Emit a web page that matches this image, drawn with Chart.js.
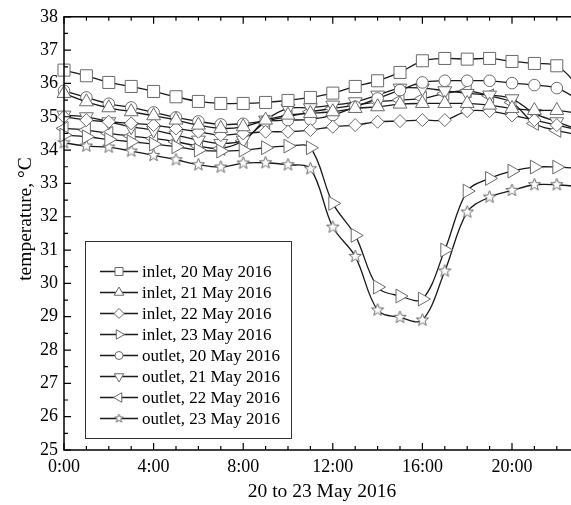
<!DOCTYPE html>
<html>
<head>
<meta charset="utf-8">
<script src="https://cdn.jsdelivr.net/npm/chart.js@4.4.1/dist/chart.umd.min.js"></script>
<style>
    html, body { margin: 0; padding: 0; background: #fff; overflow: hidden; }
    #wrap { width: 612px; height: 505px; }
</style>
</head>
<body>
<div id="wrap"><canvas id="tempChart" width="612" height="505"></canvas></div>
<script>
// hours of the day, one point per hour
const hours = [0, 1, 2, 3, 4, 5, 6, 7, 8, 9, 10, 11, 12, 13, 14, 15, 16, 17, 18, 19, 20, 21, 22, 23];

const inlet20 = [36.40, 36.23, 36.03, 35.91, 35.76, 35.60, 35.46, 35.40, 35.40, 35.43, 35.49, 35.58,
                 35.71, 35.91, 36.08, 36.33, 36.68, 36.75, 36.73, 36.75, 36.66, 36.60, 36.53, 35.90];
const inlet21 = [35.70, 35.45, 35.27, 35.15, 35.03, 34.90, 34.75, 34.65, 34.70, 34.90, 35.05, 35.10,
                 35.15, 35.25, 35.30, 35.38, 35.40, 35.40, 35.40, 35.35, 35.25, 35.19, 35.19, 35.10];
const inlet22 = [35.00, 34.90, 34.85, 34.80, 34.75, 34.65, 34.55, 34.45, 34.50, 34.55, 34.55, 34.60,
                 34.70, 34.75, 34.85, 34.87, 34.90, 34.90, 35.17, 35.17, 35.04, 34.90, 34.75, 34.60];
const inlet23 = [34.45, 34.40, 34.32, 34.25, 34.18, 34.10, 34.00, 33.97, 34.00, 34.07, 34.12, 34.07,
                 32.40, 31.44, 29.89, 29.62, 29.53, 31.00, 32.77, 33.15, 33.37, 33.49, 33.49, 33.45];
const outlet20 = [35.78, 35.58, 35.39, 35.28, 35.13, 34.98, 34.86, 34.77, 34.79, 34.87, 34.90, 34.92,
                  35.05, 35.30, 35.55, 35.80, 36.03, 36.08, 36.08, 36.08, 36.01, 35.95, 35.86, 35.50];
const outlet21 = [35.05, 35.00, 34.85, 34.70, 34.60, 34.45, 34.30, 34.20, 34.30, 34.90, 35.25, 35.27,
                  35.35, 35.45, 35.65, 35.86, 35.86, 35.78, 35.70, 35.65, 35.54, 35.10, 34.85, 34.60];
const outlet22 = [34.65, 34.60, 34.50, 34.42, 34.35, 34.25, 34.12, 34.05, 34.28, 34.84, 35.00, 35.15,
                  35.25, 35.35, 35.45, 35.50, 35.55, 35.70, 35.78, 35.63, 35.43, 34.80, 34.59, 34.45];
const outlet23 = [34.22, 34.12, 34.09, 33.97, 33.84, 33.71, 33.56, 33.49, 33.61, 33.62, 33.56, 33.44,
                  31.69, 30.81, 29.20, 28.98, 28.90, 30.37, 32.14, 32.59, 32.79, 32.96, 32.96, 32.90];

const seriesNames = ['inlet, 20 May 2016', 'inlet, 21 May 2016', 'inlet, 22 May 2016', 'inlet, 23 May 2016',
                     'outlet, 20 May 2016', 'outlet, 21 May 2016', 'outlet, 22 May 2016', 'outlet, 23 May 2016'];
// 24:00 falls outside the visible window, so only these get labels
const xTicks = [0, 4, 8, 12, 16, 20];
const xTitle = '20 to 23 May 2016';
const yTitle = 'temperature, °C';

const FONT = 'Liberation Serif, Times New Roman, serif';
const MARK = '#6a6a6a';

function makeStar(r) {
    const c = document.createElement('canvas');
    const s = Math.ceil(r * 2 + 4);
    c.width = s; c.height = s;
    const g = c.getContext('2d');
    g.beginPath();
    for (let i = 0; i < 10; i++) {
        const rr = i % 2 === 0 ? r : r * 0.42;
        const a = -Math.PI / 2 + i * Math.PI / 5;
        g.lineTo(s / 2 + rr * Math.cos(a), s / 2 + rr * Math.sin(a));
    }
    g.closePath();
    g.fillStyle = '#fff';
    g.fill();
    g.strokeStyle = MARK;
    g.lineWidth = 1;
    g.stroke();
    return c;
}

const starBig = makeStar(6.5);
const starSmall = makeStar(4.5);

// marker style for each series: [pointStyle, rotation, radius]
const markers = [
    ['rect', 0, 8.5],
    ['triangle', 0, 8],
    ['rectRot', 0, 6.5],
    ['triangle', 90, 8],
    ['circle', 0, 5.8],
    ['triangle', 180, 8],
    ['triangle', 270, 8],
    [starBig, 0, 6]
];

const allSeries = [inlet20, inlet21, inlet22, inlet23, outlet20, outlet21, outlet22, outlet23];

const datasets = allSeries.map((vals, i) => ({
    label: seriesNames[i],
    data: hours.map((h, k) => ({ x: h, y: vals[k] })),
    borderColor: '#1a1a1a',
    borderWidth: 1.3,
    tension: 0.35,
    pointStyle: markers[i][0],
    rotation: markers[i][1],
    pointRadius: markers[i][2],
    pointBackgroundColor: '#fff',
    pointBorderColor: MARK,
    pointBorderWidth: 1,
    clip: false
}));

// frame with inward ticks, like the original plot, plus the axis titles
const framePlugin = {
    id: 'frame',
    afterDraw(chart) {
        const { ctx, chartArea: a, scales } = chart;
        const xs = scales.x, ys = scales.y;
        ctx.save();
        ctx.strokeStyle = '#000';
        ctx.lineWidth = 1.5;
        ctx.strokeRect(a.left, a.top, a.right - a.left, a.bottom - a.top);
        ctx.lineWidth = 1.2;
        ctx.beginPath();
        for (let h = 0; h <= 24; h++) {
            const px = xs.getPixelForValue(h);
            const len = h % 4 === 0 ? 7 : 4;
            ctx.moveTo(px, a.bottom); ctx.lineTo(px, a.bottom - len);
            ctx.moveTo(px, a.top); ctx.lineTo(px, a.top + len);
        }
        for (let v = 25; v <= 38; v += 0.5) {
            const py = ys.getPixelForValue(v);
            const len = Number.isInteger(v) ? 7 : 4;
            ctx.moveTo(a.left, py); ctx.lineTo(a.left + len, py);
            ctx.moveTo(a.right, py); ctx.lineTo(a.right - len, py);
        }
        ctx.stroke();

        ctx.fillStyle = '#000';
        ctx.font = '19.5px ' + FONT;
        ctx.textAlign = 'center';
        ctx.textBaseline = 'middle';
        ctx.fillText(xTitle, 322, 492);
        ctx.translate(26, 219);
        ctx.rotate(-Math.PI / 2);
        ctx.fillText(yTitle, 0, 0);
        ctx.restore();
    }
};

function legendMarker(ctx, i, x, y) {
    const [style, rot] = markers[i];
    if (style === starBig) {
        ctx.drawImage(starSmall, x - starSmall.width / 2, y - starSmall.height / 2);
        return;
    }
    ctx.save();
    ctx.translate(x, y);
    ctx.rotate(rot * Math.PI / 180);
    ctx.beginPath();
    if (style === 'rect') {
        ctx.rect(-4, -4, 8, 8);
    } else if (style === 'circle') {
        ctx.arc(0, 0, 4, 0, Math.PI * 2);
    } else if (style === 'rectRot') {
        ctx.moveTo(0, -5); ctx.lineTo(5, 0); ctx.lineTo(0, 5); ctx.lineTo(-5, 0); ctx.closePath();
    } else {
        const r = 5.5;
        for (let k = 0; k < 3; k++) {
            const ang = -Math.PI / 2 + k * 2 * Math.PI / 3;
            ctx.lineTo(r * Math.cos(ang), r * Math.sin(ang));
        }
        ctx.closePath();
    }
    ctx.fillStyle = '#fff';
    ctx.fill();
    ctx.strokeStyle = MARK;
    ctx.lineWidth = 1;
    ctx.stroke();
    ctx.restore();
}

const boxLegend = {
    id: 'boxLegend',
    afterDraw(chart) {
        const ctx = chart.ctx;
        const bx = 85.5, by = 241.5, bw = 206, bh = 197;
        ctx.save();
        ctx.fillStyle = '#fff';
        ctx.fillRect(bx, by, bw, bh);
        ctx.strokeStyle = '#333';
        ctx.lineWidth = 1;
        ctx.strokeRect(bx, by, bw, bh);
        ctx.font = '17px ' + FONT;
        ctx.textBaseline = 'middle';
        seriesNames.forEach((name, i) => {
            const y = 271.5 + i * 21;
            ctx.strokeStyle = '#1a1a1a';
            ctx.lineWidth = 1.3;
            ctx.beginPath();
            ctx.moveTo(100, y); ctx.lineTo(138, y);
            ctx.stroke();
            legendMarker(ctx, i, 119, y);
            ctx.fillStyle = '#000';
            ctx.fillText(name, 142, y + 1);
        });
        ctx.restore();
    }
};

new Chart(document.getElementById('tempChart'), {
    type: 'line',
    data: { datasets: datasets },
    options: {
        responsive: false,
        animation: false,
        layout: { padding: { top: 16, right: 10.4, left: 0, bottom: 0 } },
        plugins: { legend: { display: false }, tooltip: { enabled: false } },
        scales: {
            x: {
                type: 'linear',
                min: 0,
                max: 24,
                afterBuildTicks: s => { s.ticks = xTicks.map(v => ({ value: v })); },
                afterFit: s => { s.height = 55; s.paddingRight = 0; },
                ticks: {
                    callback: v => v + ':00',
                    color: '#000',
                    font: { family: FONT, size: 18 },
                    padding: 6,
                    maxRotation: 0,
                    autoSkip: false
                },
                grid: { display: false, drawTicks: false },
                border: { display: false }
            },
            y: {
                min: 25,
                max: 38,
                afterFit: s => { s.width = 64; },
                ticks: {
                    stepSize: 1,
                    color: '#000',
                    font: { family: FONT, size: 18 },
                    padding: 6
                },
                grid: { display: false, drawTicks: false },
                border: { display: false }
            }
        }
    },
    plugins: [framePlugin, boxLegend]
});
</script>
</body>
</html>
